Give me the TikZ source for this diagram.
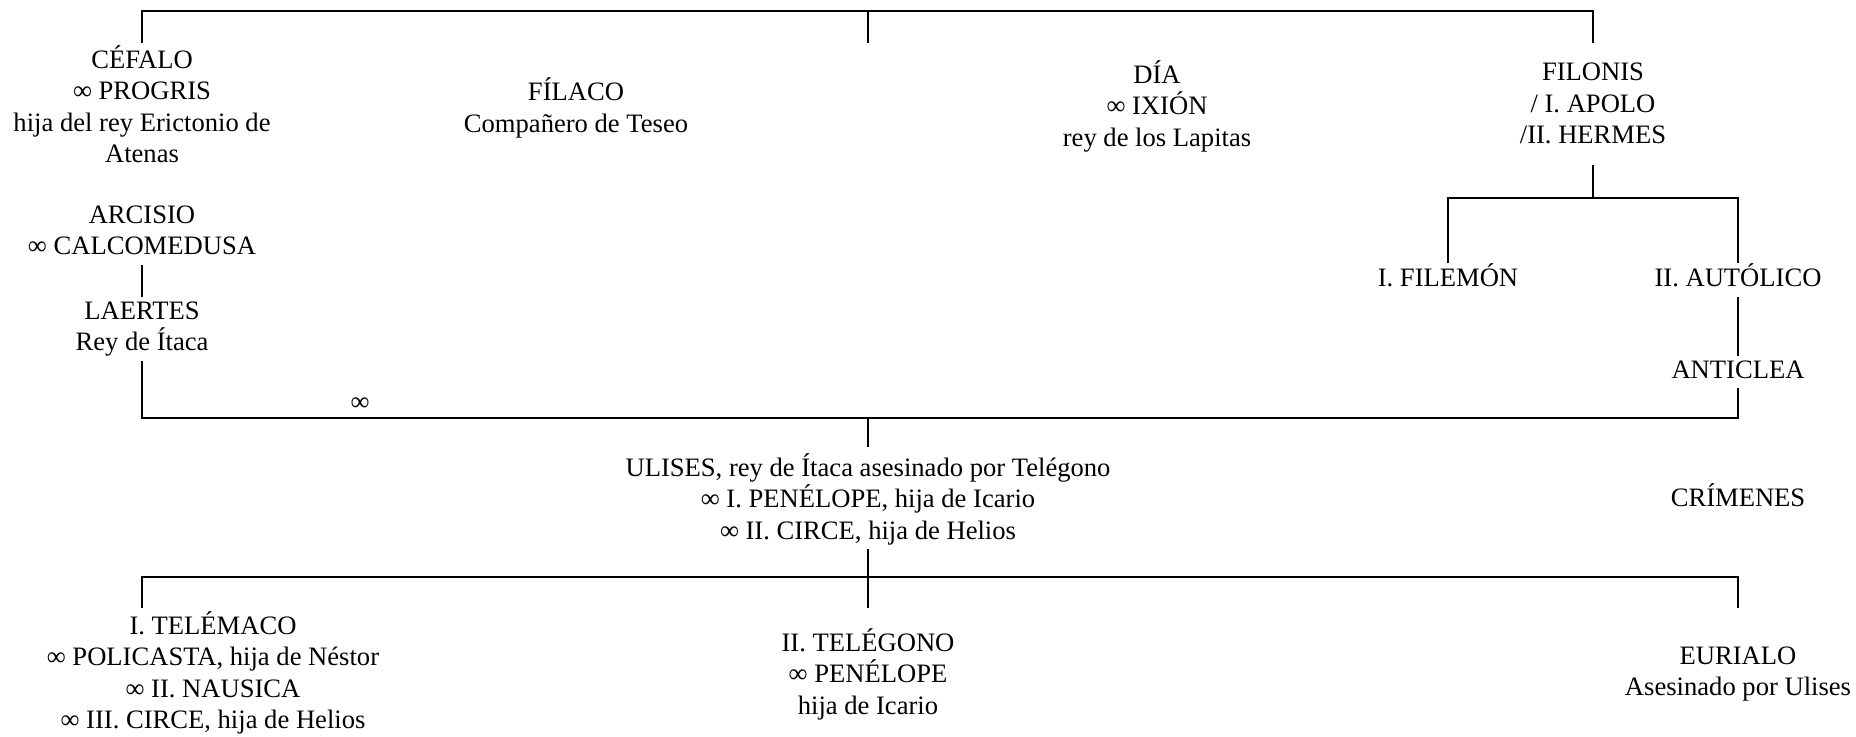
\documentclass[tikz,border=0pt]{standalone}
\usepackage{fontspec}
\setmainfont{Liberation Serif}

\tikzset{
  persona/.style={align=center,inner sep=0pt,font=\fontsize{13.3}{15.75}\selectfont,
    execute at begin node=\strut,execute at end node=\strut},
  rama/.style={draw=black,line width=1.2pt}
}

\begin{document}
\begin{tikzpicture}[x=0.5pt,y=-0.5pt]
		\useasboundingbox (0,0) rectangle (1856,736);

		\node[persona] (cefalo) at (142,109) {CÉFALO\\∞ PROGRIS\\hija del rey Erictonio de\\Atenas};
		\node[persona] (filaco) at (576,110) {FÍLACO\\Compañero de Teseo};
		\node[persona] (dia) at (1157,108) {DÍA\\∞ IXIÓN\\rey de los Lapitas};
		\node[persona] (filonis) at (1593,108) {FILONIS\\/ I. APOLO\\/II. HERMES};
		\node[persona] (arcisio) at (142,235) {ARCISIO\\∞ CALCOMEDUSA};
		\node[persona] (laertes) at (142,331) {LAERTES\\Rey de Ítaca};
		\node[persona] (filemon) at (1448,280) {I. FILEMÓN};
		\node[persona] (autolico) at (1738,280) {II. AUTÓLICO};
		\node[persona] (anticlea) at (1738,372) {ANTICLEA};
		\node[persona] (boda) at (360,404) {∞};
		\node[persona] (ulises) at (868,501) {ULISES, rey de Ítaca asesinado por Telégono\\∞ I. PENÉLOPE, hija de Icario\\∞ II. CIRCE, hija de Helios};
		\node[persona] (crimenes) at (1738,500) {CRÍMENES};
		\node[persona] (telemaco) at (213,675) {I. TELÉMACO\\∞ POLICASTA, hija de Néstor\\∞ II. NAUSICA\\∞ III. CIRCE, hija de Helios};
		\node[persona] (telegono) at (868,676) {II. TELÉGONO\\∞ PENÉLOPE\\hija de Icario};
		\node[persona] (eurialo) at (1738,676) {EURIALO\\Asesinado por Ulises};

		\coordinate (cima) at (868,11);
		\coordinate (cimaL) at (142,43);
		\coordinate (cimaM) at (868,43);
		\coordinate (cimaR) at (1593,43);
		\path[rama] (cimaL) |- (cima) -| (cimaR);
		\path[rama] (cimaM) -- (cima);

		\coordinate (hijosF) at (1593,198);
		\path[rama] ([yshift=-6pt]filonis.south) -- (hijosF);
		\path[rama] (filemon.north) |- (hijosF) -| (autolico.north);
		\path[rama] (autolico) -- (anticlea);
		\path[rama] (arcisio) -- ([yshift=2pt]laertes.north);

		\coordinate (union) at (868,418);
		\path[rama] (laertes.south) |- (union) -| (anticlea.south);
		\path[rama] (union) -- ([yshift=3pt]ulises.north);

		\coordinate (hijosU) at (868,577);
		\coordinate (pieT) at (142,608);
		\coordinate (pieG) at (868,608);
		\coordinate (pieE) at (1738,608);
		\path[rama] (ulises.south) -- (pieG);
		\path[rama] (pieT) |- (hijosU) -| (pieE);
	\end{tikzpicture}
\end{document}
